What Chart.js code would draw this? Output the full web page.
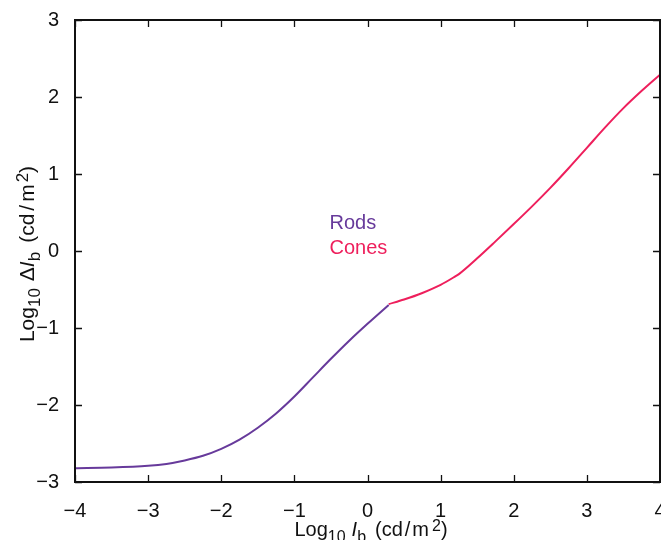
<!DOCTYPE html>
<html>
<head>
<meta charset="utf-8">
<script src="https://cdn.jsdelivr.net/npm/chart.js@4"></script>
<style>
  html, body { margin:0; padding:0; background:#fff; overflow:hidden; width:661px; height:540px; }
  #wrap { position:absolute; left:0; top:0; width:680px; height:540px; }
</style>
</head>
<body>
<div id="wrap"><canvas id="c" width="680" height="540"></canvas></div>
<script>
// log10 background intensity vs log10 threshold increment
const rodsX = [-4, -3.5, -3, -2.75, -2.5, -2.25, -2, -1.75, -1.5, -1.25, -1, -0.75, -0.5, -0.25, 0, 0.29];
const rodsY = [-2.82, -2.812, -2.79, -2.765, -2.72, -2.66, -2.57, -2.45, -2.295, -2.11, -1.89, -1.645, -1.40, -1.165, -0.945, -0.70];
const conesX = [0.29, 0.5, 0.75, 1.0, 1.2, 1.25, 1.5, 1.75, 2.0, 2.25, 2.5, 2.75, 3.0, 3.25, 3.5, 3.75, 4.0];
const conesY = [-0.69, -0.63, -0.545, -0.44, -0.33, -0.30, -0.095, 0.125, 0.35, 0.58, 0.82, 1.075, 1.34, 1.605, 1.855, 2.08, 2.29];
const xTicks = [-4, -3, -2, -1, 0, 1, 2, 3, 4];
const yTicks = [-3, -2, -1, 0, 1, 2, 3];
const seriesNames = ['Rods', 'Cones'];
const seriesColors = ['#673a9b', '#ee1f5c'];

const FONT = "'Liberation Sans', Arial, Helvetica, sans-serif";
const minus = v => v < 0 ? '\u2212' + Math.abs(v) : String(v);

function pts(xs, ys){ return xs.map((x,i)=>({x, y:ys[i]})); }

// text pieces with sub/superscripts
function richWidth(ctx, parts){
  let w = 0;
  parts.forEach(p=>{ ctx.font = (p.it?'italic ':'') + p.s + 'px ' + FONT; w += ctx.measureText(p.t).width + (p.gap||0); });
  return w;
}
function drawRich(ctx, parts, x, y){
  let cx = x;
  parts.forEach(p=>{
    ctx.font = (p.it?'italic ':'') + p.s + 'px ' + FONT;
    cx += (p.gap||0);
    ctx.fillText(p.t, cx, y + (p.dy||0));
    cx += ctx.measureText(p.t).width;
  });
}

const xTitle = [
  {t:'Log', s:20}, {t:'10', s:16, dy:6}, {t:'I', s:20, it:true, gap:6}, {t:'b', s:16, dy:6},
  {t:'(cd', s:20, gap:9}, {t:'/', s:20, gap:2}, {t:'m', s:20, gap:2}, {t:'2', s:16, dy:-5, gap:3}, {t:')', s:20}
];
const yTitle = [
  {t:'Log', s:21}, {t:'10', s:17, dy:6}, {t:'\u0394', s:21, gap:7}, {t:'I', s:21, it:true}, {t:'b', s:17, dy:6},
  {t:'(cd', s:21, gap:9}, {t:'/', s:21, gap:3}, {t:'m', s:21, gap:3}, {t:'2', s:17, dy:-6, gap:2}, {t:')', s:21}
];

const frame = {
  id:'frame',
  afterDraw(chart){
    const {ctx, chartArea:a, scales:{x, y}} = chart;
    ctx.save();
    ctx.strokeStyle = '#111';
    ctx.lineWidth = 1.3;
    ctx.beginPath();
    xTicks.forEach(v=>{
      const px = Math.round(x.getPixelForValue(v)) + 0.5;
      ctx.moveTo(px, a.bottom); ctx.lineTo(px, a.bottom - 7);
      ctx.moveTo(px, a.top); ctx.lineTo(px, a.top + 7);
    });
    yTicks.forEach(v=>{
      const py = Math.round(y.getPixelForValue(v)) + 0.5;
      ctx.moveTo(a.left, py); ctx.lineTo(a.left + 7, py);
      ctx.moveTo(a.right, py); ctx.lineTo(a.right - 7, py);
    });
    ctx.stroke();
    ctx.lineWidth = 2;
    ctx.strokeRect(a.left, a.top, a.right - a.left, a.bottom - a.top);

    // in-plot labels
    ctx.textBaseline = 'alphabetic';
    ctx.font = '20px ' + FONT;
    ctx.fillStyle = seriesColors[0];
    ctx.fillText(seriesNames[0], x.getPixelForValue(-0.52), y.getPixelForValue(0.28));
    ctx.fillStyle = seriesColors[1];
    ctx.fillText(seriesNames[1], x.getPixelForValue(-0.52), y.getPixelForValue(-0.045));

    // axis titles
    ctx.fillStyle = '#111';
    const wx = richWidth(ctx, xTitle);
    drawRich(ctx, xTitle, 371 - wx/2, 536);
    const wy = richWidth(ctx, yTitle);
    ctx.translate(34, 254);
    ctx.rotate(-Math.PI/2);
    drawRich(ctx, yTitle, -wy/2, 0);
    ctx.restore();
  }
};

new Chart(document.getElementById('c'), {
  type:'line',
  data:{
    datasets:[
      { label:seriesNames[0], data:pts(rodsX, rodsY), borderColor:seriesColors[0], borderWidth:2, pointRadius:0, cubicInterpolationMode:'monotone', fill:false },
      { label:seriesNames[1], data:pts(conesX, conesY), borderColor:seriesColors[1], borderWidth:2, pointRadius:0, cubicInterpolationMode:'monotone', fill:false }
    ]
  },
  options:{
    responsive:false,
    animation:false,
    devicePixelRatio:1,
    layout:{ padding:{ top:20, right:20, bottom:0, left:0 } },
    plugins:{ legend:{ display:false }, tooltip:{ enabled:false } },
    scales:{
      x:{
        type:'linear', min:-4, max:4,
        afterFit(s){ s.height = 58; },
        afterBuildTicks(s){ s.ticks = xTicks.map(v=>({value:v})); },
        grid:{ display:false }, border:{ display:false },
        ticks:{ color:'#111', padding:9, maxRotation:0, autoSkip:false, font:{ family:FONT, size:20 }, callback:minus }
      },
      y:{
        type:'linear', min:-3, max:3,
        afterFit(s){ s.width = 75; },
        afterBuildTicks(s){ s.ticks = yTicks.map(v=>({value:v})); },
        grid:{ display:false }, border:{ display:false },
        ticks:{ color:'#111', padding:8, font:{ family:FONT, size:20 }, callback:minus }
      }
    }
  },
  plugins:[frame]
});
</script>
</body>
</html>
